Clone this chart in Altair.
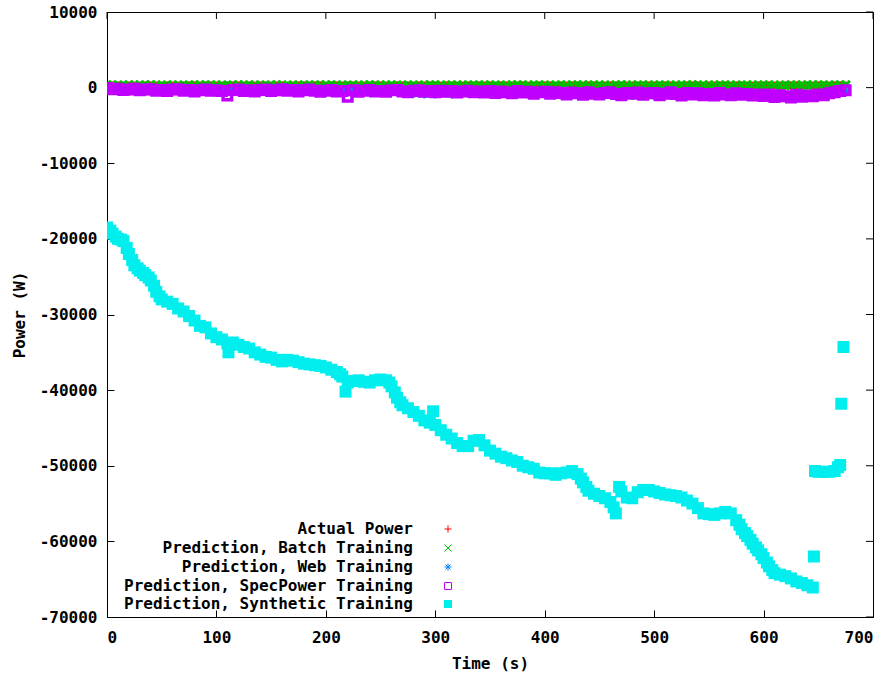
import altair as alt
import pandas as pd

# ---------------- data ----------------
t_grid = list(range(0, 680, 5))  # sampling instants (s) for the four near-zero series

actual_power = [
    250, 265, 270, 255, 280, 260, 245, 270, 285, 260,
    255, 275, 260, 250, 270, 290, 265, 255, 270, 280,
    260, 250, 275, 285, 265, 255, 270, 260, 280, 265,
    250, 270, 285, 260, 255, 275, 265, 250, 280, 270,
    260, 285, 270, 255, 265, 280, 260, 250, 275, 265,
    285, 260, 255, 270, 280, 265, 250, 275, 260, 290,
    270, 255, 265, 280, 260, 250, 275, 285, 265, 255,
    270, 260, 280, 265, 250, 275, 290, 260, 255, 270,
    280, 265, 255, 270, 260, 285, 275, 250, 265, 280,
    260, 255, 275, 270, 285, 260, 250, 265, 280, 270,
    255, 265, 290, 275, 260, 250, 270, 285, 265, 255,
    275, 260, 280, 265, 250, 270, 285, 260, 255, 275,
    265, 280, 260, 250, 270, 285, 265, 255, 275, 260,
    280, 265, 250, 270, 285, 260,
]

batch_pred = [
    320, 300, 310, 290, 330, 305, 295, 315, 325, 300,
    290, 310, 320, 300, 285, 315, 305, 325, 295, 310,
    300, 320, 290, 310, 330, 300, 295, 315, 305, 290,
    310, 325, 300, 290, 315, 305, 320, 295, 310, 300,
    325, 295, 310, 305, 290, 320, 300, 315, 330, 300,
    295, 310, 320, 300, 285, 315, 305, 290, 310, 325,
    300, 315, 290, 310, 320, 305, 295, 315, 300, 310,
    320, 300, 290, 315, 305, 325, 300, 310, 295, 315,
    305, 290, 320, 300, 315, 310, 295, 325, 300, 310,
    315, 300, 290, 310, 325, 305, 300, 320, 295, 310,
    300, 320, 305, 290, 315, 300, 310, 325, 295, 305,
    310, 295, 320, 305, 300, 315, 290, 310, 320, 300,
    305, 315, 300, 290, 320, 310, 300, 315, 305, 325,
    310, 300, 320, 305, 315, 330,
]

web_pred = [
    -200, -100, -300, -250, -350, -200, -300, -400, -250, -350,
    -400, -300, -350, -450, -300, -400, -350, -450, -400, -300,
    -450, -400, -350, -500, -400, -350, -500, -400, -450, -350,
    -400, -500, -350, -450, -400, -350, -500, -450, -400, -500,
    -450, -400, -550, -500, -450, -550, -500, -450, -550, -500,
    -550, -500, -600, -550, -700, -800, -850, -800, -900, -850,
    -900, -850, -800, -900, -850, -800, -700, -650, -700, -650,
    -700, -650, -750, -700, -650, -750, -700, -800, -750, -700,
    -750, -800, -700, -850, -800, -750, -850, -800, -750, -850,
    -800, -850, -800, -900, -850, -1050, -1100, -1050, -1100, -1050,
    -1100, -1050, -1100, -1050, -900, -850, -950, -900, -950, -900,
    -950, -1000, -950, -1000, -950, -1050, -1000, -1050, -1150, -1200,
    -1250, -1200, -1300, -1250, -1300, -1350, -1300, -1250, -1300, -1200,
    -1100, -1000, -950, -800, -700, -600,
]

spec_pred = [
    -50, -200, -150, -300, -250, -150, -350, -250, -200, -400,
    -300, -450, -250, -200, -400, -300, -500, -350, -250, -400,
    -350, -450, -1050, -300, -250, -450, -350, -500, -300, -250,
    -450, -350, -200, -400, -300, -500, -350, -250, -400, -550,
    -400, -300, -500, -450, -1200, -350, -550, -400, -300, -500,
    -450, -550, -350, -300, -500, -600, -400, -350, -550, -450,
    -600, -400, -550, -450, -650, -500, -400, -600, -500, -650,
    -450, -700, -500, -600, -750, -450, -650, -550, -800, -600,
    -550, -800, -600, -700, -900, -650, -750, -950, -600, -800,
    -900, -700, -600, -850, -1000, -700, -800, -650, -950, -750,
    -700, -1000, -800, -600, -850, -1050, -700, -900, -750, -1000,
    -850, -1050, -700, -900, -1000, -750, -950, -850, -1050, -900,
    -1100, -900, -1250, -1000, -1150, -1300, -950, -1200, -1050, -1150,
    -900, -1000, -750, -600, -450, -350,
]

syn_t = [
    0, 3, 5, 8, 10, 13, 15, 18, 20, 23,
    25, 28, 30, 33, 35, 38, 40, 43, 45, 48,
    50, 55, 60, 65, 70, 75, 80, 85, 90, 95,
    100, 105, 110, 111, 115, 120, 125, 130, 135, 140,
    145, 150, 155, 160, 165, 170, 175, 180, 185, 190,
    195, 200, 205, 210, 213, 215, 218, 220, 225, 230,
    235, 240, 245, 250, 255, 258, 260, 263, 265, 268,
    270, 275, 280, 285, 290, 295, 298, 300, 305, 310,
    315, 320, 325, 330, 335, 340, 345, 350, 355, 360,
    365, 370, 375, 380, 385, 390, 395, 400, 405, 410,
    415, 420, 425, 430, 433, 435, 438, 440, 445, 450,
    455, 460, 463, 465, 468, 470, 475, 480, 485, 490,
    495, 500, 505, 510, 515, 520, 525, 530, 535, 540,
    545, 550, 555, 560, 565, 570, 575, 578, 580, 583,
    585, 588, 590, 593, 595, 598, 600, 603, 605, 608,
    610, 615, 620, 625, 630, 635, 640, 645, 646, 647,
    650, 655, 660, 665, 668, 670, 671, 673,
]
syn_v = [
    -18500, -18900, -19300, -19700, -20000, -20100, -20300, -21200, -22000, -22800,
    -23500, -23900, -24200, -24500, -24800, -25100, -25500, -26200, -27000, -27600,
    -28000, -28300, -28600, -29200, -29600, -30200, -30800, -31500, -31700, -32500,
    -33000, -33300, -33800, -35000, -33700, -34000, -34300, -34500, -35000, -35300,
    -35600, -35700, -36000, -36200, -36000, -36100, -36300, -36500, -36600, -36700,
    -36800, -37000, -37300, -37600, -37900, -38200, -40200, -39000, -38800, -38700,
    -38900, -39000, -38700, -38600, -38700, -39000, -39500, -40300, -41000, -41600,
    -42000, -42400, -42900, -43400, -44000, -44300, -42800, -44600, -45300, -45900,
    -46400, -47000, -47400, -47400, -46700, -46600, -47300, -48000, -48400, -48800,
    -49000, -49300, -49500, -50000, -50200, -50400, -50900, -51000, -51000, -51200,
    -51000, -50900, -50700, -51100, -51700, -52200, -52800, -53300, -53700, -54000,
    -54300, -54800, -55500, -56300, -52800, -53400, -54200, -54300, -53500, -53200,
    -53200, -53400, -53600, -53800, -53900, -54000, -54200, -54600, -55000, -55600,
    -56300, -56400, -56500, -56300, -56100, -56300, -57200, -57800, -58400, -58900,
    -59300, -59800, -60300, -60800, -61200, -61700, -62200, -62800, -63300, -63800,
    -64200, -64400, -64600, -64900, -65300, -65500, -65800, -66100, -62000, -50700,
    -50800, -50800, -50800, -50700, -50200, -49900, -41800, -34300,
]

x_ticks = [0, 100, 200, 300, 400, 500, 600, 700]
y_ticks = [10000, 0, -10000, -20000, -30000, -40000, -50000, -60000, -70000]

series_labels = [
    "Actual Power",
    "Prediction, Batch Training",
    "Prediction, Web Training",
    "Prediction, SpecPower Training",
    "Prediction, Synthetic Training",
]
series_colors = ["#ff0000", "#00c000", "#0080ff", "#c000ff", "#00eeee"]

# ---------------- styling ----------------
W, H = 766, 605
FONT = "DejaVu Sans Mono"
FS = 16
TICK = 7

PLUS = "M-1,0L1,0M0,-1L0,1"
CROSS = "M-1,-1L1,1M-1,1L1,-1"
STAR = "M-1,0L1,0M0,-1L0,1M-0.7,-0.7L0.7,0.7M-0.7,0.7L0.7,-0.7"

xs = alt.Scale(domain=[0, 700], nice=False, zero=False)
ys = alt.Scale(domain=[-70000, 10000], nice=False, zero=False)

x_axis = alt.Axis(
    values=x_ticks, offset=-TICK, tickSize=TICK, domain=False, grid=False,
    tickColor="black", labelColor="black", labelFont=FONT, labelFontSize=FS,
    labelFontWeight="bold", labelPadding=12, labelExpr="'' + datum.value",
    title="Time (s)", titleFont=FONT, titleFontSize=FS, titleFontWeight="bold",
    titleColor="black", titlePadding=10,
)
y_axis = alt.Axis(
    values=y_ticks, offset=-TICK, tickSize=TICK, domain=False, grid=False,
    tickColor="black", labelColor="black", labelFont=FONT, labelFontSize=FS,
    labelFontWeight="bold", labelPadding=10, labelExpr="'' + datum.value",
    title="Power (W)", titleFont=FONT, titleFontSize=FS, titleFontWeight="bold",
    titleColor="black", titlePadding=12,
)

X = alt.X("t:Q", scale=xs, axis=x_axis)
Y = alt.Y("v:Q", scale=ys, axis=y_axis)


def pts(t, v, color, shape, size, filled=False, sw=1.0):
    df = pd.DataFrame({"t": t, "v": v})
    return alt.Chart(df).mark_point(
        shape=shape, size=size, filled=filled, color=color,
        strokeWidth=sw, opacity=1, clip=True,
    ).encode(x=X, y=Y)


layers = [
    pts(t_grid, actual_power, series_colors[0], PLUS, 64, sw=2),
    pts(t_grid, batch_pred, series_colors[1], CROSS, 72, sw=3),
    pts(t_grid, web_pred, series_colors[2], STAR, 64, sw=2),
    pts(t_grid, spec_pred, series_colors[3], "square", 72, sw=3.5),
    pts(syn_t, syn_v, series_colors[4], "square", 144, filled=True),
]

# mirror ticks on top and right (gnuplot style, inward)
top_ticks = alt.Chart(pd.DataFrame({"t": x_ticks})).mark_rule(color="black").encode(
    x=X, y=alt.value(0), y2=alt.value(TICK))
right_ticks = alt.Chart(pd.DataFrame({"v": y_ticks})).mark_rule(color="black").encode(
    y=Y, x=alt.value(W - TICK), x2=alt.value(W))
layers += [top_ticks, right_ticks]

# key (gnuplot style: right-aligned text, symbol on the right)
key_shapes = [
    (PLUS, False, 49), (CROSS, False, 49), (STAR, False, 49),
    ("square", False, 49), ("square", True, 64),
]
key_text_x, key_sym_x = 306, 341
key_rows = [517, 536, 555, 574, 592]
one = alt.Data(values=[{}])
for lab, col, (shp, fil, sz), ry in zip(series_labels, series_colors, key_shapes, key_rows):
    layers.append(alt.Chart(one).mark_text(
        text=lab, align="right", baseline="middle", font=FONT, fontSize=FS,
        fontWeight="bold", color="black").encode(x=alt.value(key_text_x), y=alt.value(ry)))
    layers.append(alt.Chart(one).mark_point(
        shape=shp, size=sz, filled=fil, color=col, strokeWidth=1, opacity=1).encode(
        x=alt.value(key_sym_x), y=alt.value(ry)))

chart = alt.layer(*layers).properties(
    width=W, height=H,
    autosize=alt.AutoSizeParams(type="none"),
    padding={"left": 107, "top": 12, "right": 894 - 107 - W, "bottom": 679 - 12 - H},
    background="white",
).configure_view(stroke="black", strokeWidth=1)

chart.save("out.html", embed_options={"renderer": "svg", "actions": False})
